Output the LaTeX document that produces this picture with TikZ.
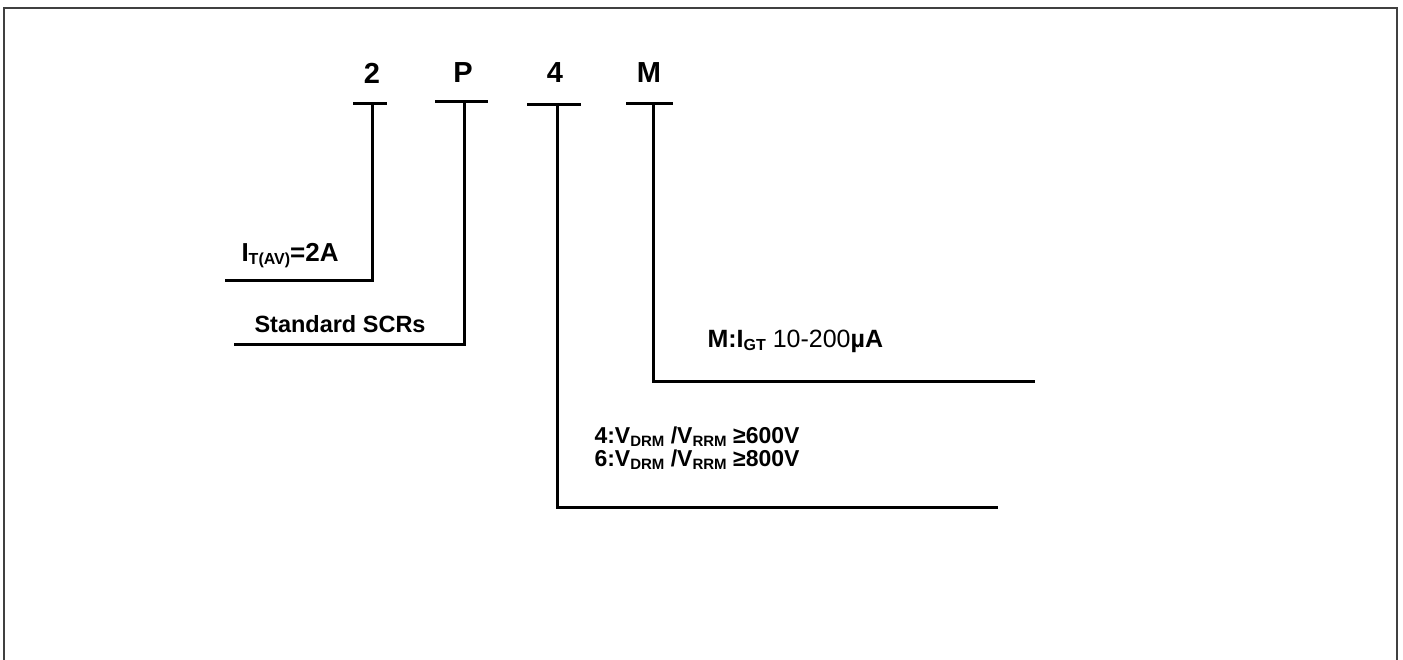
\documentclass[tikz,border=0pt]{standalone}
\usepackage{fontspec}
\setmainfont{Liberation Sans}
\usetikzlibrary{positioning}
\newcommand{\lowidx}[2][15]{\raisebox{-0.12em}{\fontsize{#1}{#1}\selectfont #2}}

\begin{document}
\begin{tikzpicture}[x=1pt,y=-1pt,line width=3pt,
  code/.style={font=\fontsize{29}{29}\selectfont\bfseries,inner sep=0pt},
  desc/.style={font=\fontsize{23}{23}\selectfont\bfseries,inner sep=0pt,anchor=west,align=left}]
\useasboundingbox (0,0) rectangle (1403,660);
\draw[line width=2pt,draw=black!75] (4,660) -- (4,8) -- (1397,8) -- (1397,660);

% code letters
\node[code] (n2) at (372,73) {2};
\node[code] (nP) at (463,73) {P};
\node[code] (n4) at (555,73) {4};
\node[code] (nM) at (649,73) {M};

% bar tops
\coordinate (t2) at (372,104);
\coordinate (tP) at (464,102);
\coordinate (t4) at (557,105);
\coordinate (tM) at (653,104);
\draw ([xshift=-19pt]t2) -- ([xshift=15pt]t2);
\draw ([xshift=-29pt]tP) -- ([xshift=24pt]tP);
\draw ([xshift=-30pt]t4) -- ([xshift=24pt]t4);
\draw ([xshift=-27pt]tM) -- ([xshift=20pt]tM);

% elbows and ends
\coordinate (e2) at (372,281);  \coordinate (f2) at (225,281);
\coordinate (eP) at (464,344);  \coordinate (fP) at (234,344);
\coordinate (eM) at (653,381);  \coordinate (fM) at (1035,381);
\coordinate (e4) at (557,507);  \coordinate (f4) at (998,507);
\draw (t2) -- (e2) -- (f2);
\draw (tP) -- (eP) -- (fP);
\draw (tM) -- (eM) -- (fM);
\draw (t4) -- (e4) -- (f4);

% descriptions
\node[desc,font=\fontsize{26}{26}\selectfont\bfseries] (cur) at (240,256) {I\lowidx[16]{T(AV)}=2A};
\node[desc,font=\fontsize{23.5}{24}\selectfont\bfseries] (typ) at (253,324) {Standard SCRs};
\node[desc,font=\fontsize{25}{26}\selectfont\bfseries] (gate) at (706,341) {M:I\lowidx[16]{GT} \mdseries 10-200\bfseries µA};
\node[desc,font=\fontsize{23}{23}\selectfont\bfseries] (volt) at (593,448) {4:V\lowidx{DRM} /V\lowidx{RRM} ≥600V\\
6:V\lowidx{DRM} /V\lowidx{RRM} ≥800V};
\end{tikzpicture}
\end{document}
